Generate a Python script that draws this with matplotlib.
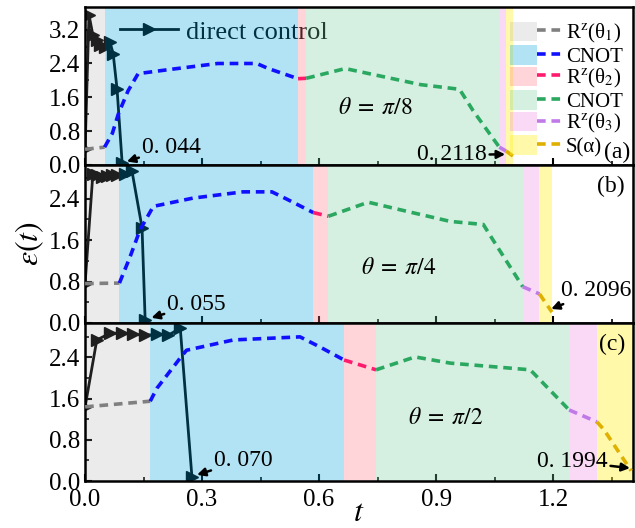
import numpy as np
import matplotlib.pyplot as plt
from matplotlib.patches import Patch
from matplotlib.lines import Line2D
from matplotlib.legend_handler import HandlerTuple

plt.rcParams['font.family'] = ['Liberation Serif', 'DejaVu Serif']
plt.rcParams['mathtext.fontset'] = 'stix'

# gate labels and band edges (t) for each panel
gate_labels = [r'R$^\mathrm{z}$(θ$_\mathrm{1}$)', 'CNOT', r'R$^\mathrm{z}$(θ$_\mathrm{2}$)',
               'CNOT', r'R$^\mathrm{z}$(θ$_\mathrm{3}$)', 'S(α)']
edges_a = [0.0, 0.05, 0.546, 0.567, 1.062, 1.079, 1.097]
edges_b = [0.0, 0.088, 0.585, 0.624, 1.122, 1.165, 1.197]
edges_c = [0.0, 0.167, 0.664, 0.746, 1.241, 1.312, 1.405]

# gate-sequence error curves
t_a = [0.0, 0.05, 0.07, 0.085, 0.11, 0.136, 0.21, 0.34, 0.44, 0.47, 0.546, 0.567,
       0.667, 0.86, 0.96, 0.995, 1.062, 1.079, 1.097]
y_a = [0.37, 0.42, 0.75, 1.2, 1.75, 2.16, 2.25, 2.4, 2.4, 2.28, 2.04, 2.05,
       2.28, 1.9, 1.79, 1.28, 0.42, 0.33, 0.2118]
t_b = [0.0, 0.088, 0.115, 0.141, 0.175, 0.277, 0.405, 0.479, 0.517, 0.585, 0.624,
       0.726, 0.833, 0.936, 1.021, 1.046, 1.122, 1.165, 1.197]
y_b = [0.76, 0.77, 1.27, 1.8, 2.25, 2.41, 2.53, 2.53, 2.39, 2.13, 2.06,
       2.33, 2.14, 1.96, 1.9, 1.6, 0.7, 0.56, 0.2096]
t_c = [0.0, 0.167, 0.184, 0.244, 0.26, 0.38, 0.551, 0.603, 0.664, 0.746, 0.846,
       0.936, 1.141, 1.149, 1.241, 1.312, 1.33, 1.40]
y_c = [1.44, 1.55, 1.8, 2.39, 2.54, 2.74, 2.8, 2.6, 2.35, 2.16, 2.41,
       2.29, 2.16, 2.1, 1.38, 1.15, 1.0, 0.1994]

# direct control curves
dc_t_a = [0.0, 0.01, 0.02, 0.03, 0.038, 0.05, 0.064, 0.072, 0.082, 0.095]
dc_y_a = [0.37, 3.55, 3.07, 2.95, 2.84, 2.8, 2.9, 2.63, 1.79, 0.044]
dc_t_b = [0.0, 0.02, 0.03, 0.044, 0.056, 0.069, 0.082, 0.103, 0.12, 0.146, 0.154]
dc_y_b = [0.76, 2.88, 2.85, 2.82, 2.84, 2.86, 2.86, 2.88, 2.94, 1.84, 0.055]
dc_t_c = [0.0, 0.03, 0.064, 0.094, 0.123, 0.154, 0.185, 0.213, 0.244, 0.274]
dc_y_c = [1.44, 2.74, 2.87, 2.87, 2.85, 2.83, 2.85, 2.83, 2.97, 0.070]

thetas = [r'$\theta\;=\;\pi/8$', r'$\theta\;=\;\pi/4$', r'$\theta\;=\;\pi/2$']
final_dc = ['0. 044', '0. 055', '0. 070']
final_gate = ['0. 2118', '0. 2096', '0. 1994']
panel_tags = ['(a)', '(b)', '(c)']

band_colors = ['#9e9e9e', '#00a5dd', '#ff7683', '#76cd9e', '#ee83de', '#fff22a']
band_alpha = [0.2, 0.3, 0.3, 0.3, 0.3, 0.4]
line_colors = ['#808080', '#1010ff', '#ff1a6e', '#2aa860', '#c07ae8', '#e0b000']
dash = (0, (2.4, 1.6))

fig = plt.figure(figsize=(6.35, 5.28), dpi=100)
gs = fig.add_gridspec(3, 1, hspace=0, left=0.134, right=0.997, top=0.987, bottom=0.089)
axes = [fig.add_subplot(gs[i]) for i in range(3)]

panels = [(edges_a, t_a, y_a, dc_t_a, dc_y_a),
          (edges_b, t_b, y_b, dc_t_b, dc_y_b),
          (edges_c, t_c, y_c, dc_t_c, dc_y_c)]
ylims = [3.74, 3.05, 3.07]

for i, (ax, (edges, t, y, dct, dcy)) in enumerate(zip(axes, panels)):
    t = np.array(t); y = np.array(y)
    for k in range(6):
        ax.axvspan(edges[k], edges[k + 1], color=band_colors[k], alpha=band_alpha[k],
                   lw=0, zorder=2)
        m = (t >= edges[k] - 1e-9) & (t <= edges[k + 1] + 1e-9)
        ax.plot(t[m], y[m], color=line_colors[k], ls=dash, lw=2.6, zorder=3)
    dl, = ax.plot(dct, dcy, color='black', lw=2, marker='>', ms=9, zorder=1,
                  label='direct control')
    ax.set_xlim(0, 1.405)
    ax.set_ylim(0, ylims[i])
    ax.set_yticks([0.0, 0.8, 1.6, 2.4, 3.2] if i == 0 else [0.0, 0.8, 1.6, 2.4])
    ax.set_yticks(np.arange(0.4, ylims[i], 0.8), minor=True)
    ax.set_xticks([0.0, 0.3, 0.6, 0.9, 1.2])
    ax.set_xticks([0.15, 0.45, 0.75, 1.05, 1.35], minor=True)
    ax.tick_params(direction='in', which='major', length=5, width=1.5, labelsize=18)
    ax.tick_params(direction='in', which='minor', length=3, width=1.2)
    ax.tick_params(axis='x', pad=6)
    if i < 2:
        ax.tick_params(labelbottom=False)
    for s in ax.spines.values():
        s.set_linewidth(1.8)
    ax.text(0.5 * (edges[3] + edges[4]) - 0.07, [1.33, 1.06, 1.22][i], thetas[i],
            fontsize=17, ha='center', va='center', zorder=5)
    if i == 0:
        leg = ax.legend(handles=[dl], loc='upper left', bbox_to_anchor=(0.04, 1.0),
                        frameon=False, fontsize=19, handlelength=2.2, handletextpad=0.3,
                        borderaxespad=0.1)
        leg.set_zorder(1.5)
        handles = [(Patch(facecolor=band_colors[k], alpha=band_alpha[k], lw=0),
                    Line2D([], [], color=line_colors[k], ls=dash, lw=2.6))
                   for k in range(6)]
        leg2 = ax.legend(handles, gate_labels, loc='upper right', bbox_to_anchor=(1.0, 0.97),
                         frameon=False, fontsize=15, handlelength=2.6, handleheight=1.05,
                         labelspacing=0.0, handletextpad=0.1, borderaxespad=0.1,
                         handler_map={tuple: HandlerTuple(ndivide=None, pad=0)})
        ax.add_artist(leg)
        ax.text(0.995, 0.01, panel_tags[i], transform=ax.transAxes, fontsize=17,
                ha='right', va='bottom')
    else:
        ax.text(0.985, 0.93, panel_tags[i], transform=ax.transAxes, fontsize=17,
                ha='right', va='top')

arrow = dict(arrowstyle='-|>', color='black', lw=1.8, mutation_scale=12, shrinkA=0, shrinkB=0)
dc_ann = [((0.107, 0.08), (0.145, 0.42)), ((0.17, 0.1), (0.21, 0.36)), ((0.287, 0.12), (0.33, 0.40))]
gate_ann = [((1.077, 0.25), (1.03, 0.24), 'right'), ((1.195, 0.27), (1.22, 0.62), 'left'),
            ((1.397, 0.25), (1.34, 0.38), 'right')]
for i, ax in enumerate(axes):
    ax.annotate(final_dc[i], xy=dc_ann[i][0], xytext=dc_ann[i][1], fontsize=17,
                ha='left', va='center', arrowprops=arrow, zorder=6)
    g = gate_ann[i]
    ax.annotate(final_gate[i], xy=g[0], xytext=g[1], fontsize=17, ha=g[2],
                va='center', arrowprops=arrow, zorder=6)

axes[1].set_ylabel(r'$\varepsilon(t)$', fontsize=23, labelpad=2)
axes[2].set_xlabel(r'$t$', fontsize=23, labelpad=-9)

fig.savefig('out.png', dpi=100)
